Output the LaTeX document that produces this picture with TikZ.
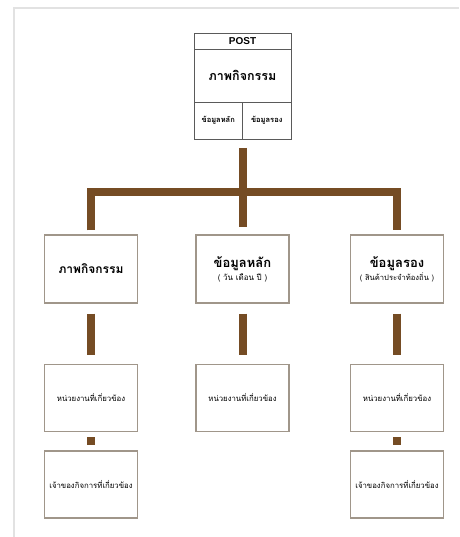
\documentclass[tikz,border=0pt]{standalone}
\usepackage{fontspec}
\setmainfont{Liberation Sans}
\newfontfamily\thaifont[Script=Thai]{Loma}
\usetikzlibrary{positioning}
\definecolor{barbrown}{RGB}{117,76,36}
\definecolor{boxline}{RGB}{160,150,138}
\definecolor{postline}{RGB}{90,90,90}
\definecolor{framegray}{RGB}{226,226,226}

\begin{document}
\begin{tikzpicture}[
        x=1pt, y=-1pt,
        node distance=60pt and 0pt,
        postcell/.style={rectangle, draw=postline, line width=0.9pt, outer sep=0pt, inner sep=1pt, align=center, minimum width=97pt},
        topbox/.style={rectangle, draw=boxline, fill=white, line width=1.4pt, minimum width=93pt, minimum height=68pt, align=center, inner sep=2pt},
        lowbox/.style={topbox, minimum height=67pt, font=\thaifont\fontsize{7.8}{9}\selectfont},
        titletext/.style={font=\thaifont\bfseries\fontsize{12}{14}\selectfont},
        trunk/.style={draw=barbrown, line width=8pt}
    ]
        \useasboundingbox (0,0) rectangle (459,537);
        \draw[framegray, line width=2pt] (459,8) -| (14,537);

        % post card
        \node[postcell, minimum height=16pt, font=\bfseries\fontsize{10}{12}\selectfont] (posthead) at (242.5,41) {POST};
        \node[postcell, below=0pt of posthead, minimum height=53pt, font=\thaifont\bfseries\fontsize{12.5}{14}\selectfont] (postpic) {ภาพกิจกรรม};
        \node[postcell, below=0pt of postpic.south west, anchor=north west, minimum width=48.5pt, minimum height=37pt, font=\thaifont\bfseries\fontsize{7.5}{9}\selectfont] (postmain) {ข้อมูลหลัก};
        \node[postcell, below=0pt of postpic.south east, anchor=north east, minimum width=48.5pt, minimum height=37pt, font=\thaifont\bfseries\fontsize{7.5}{9}\selectfont] (postsub) {ข้อมูลรอง};

        % second row
        \node[topbox, titletext] (act) at (91,269) {ภาพกิจกรรม};
        \node[topbox, titletext, font=\thaifont\bfseries\fontsize{13}{15}\selectfont] (dates) at (242.5,269) {ข้อมูลหลัก\\[-2pt]{\mdseries\fontsize{8}{9}\selectfont ( วัน เดือน ปี )}};
        \node[topbox, titletext, font=\thaifont\bfseries\fontsize{13}{15}\selectfont] (goods) at (397,269) {ข้อมูลรอง\\[-2pt]{\mdseries\fontsize{7.6}{9}\selectfont ( สินค้าประจำท้องถิ่น )}};

        % third and fourth rows
        \node[lowbox, below=of act] (actorg) {หน่วยงานที่เกี่ยวข้อง};
        \node[lowbox, below=of dates] (dateorg) {หน่วยงานที่เกี่ยวข้อง};
        \node[lowbox, below=of goods] (goodsorg) {หน่วยงานที่เกี่ยวข้อง};
        \node[lowbox, below=18pt of actorg] (actowner) {เจ้าของกิจการที่เกี่ยวข้อง};
        \node[lowbox, below=18pt of goodsorg] (goodsowner) {เจ้าของกิจการที่เกี่ยวข้อง};

        \coordinate (hub) at (242.5,192);
        \draw[trunk] ([yshift=-9pt]postmain.south east) -- ([yshift=7pt]dates.north);
        \draw[trunk] ([yshift=4pt]act.north) |- (hub) -| ([yshift=4pt]goods.north);
        \draw[trunk] ([yshift=-10pt]act.south) -- ([yshift=9pt]actorg.north);
        \draw[trunk] ([yshift=-10pt]dates.south) -- ([yshift=9pt]dateorg.north);
        \draw[trunk] ([yshift=-10pt]goods.south) -- ([yshift=9pt]goodsorg.north);
        \draw[trunk] ([yshift=-5pt]actorg.south) -- ([yshift=5pt]actowner.north);
        \draw[trunk] ([yshift=-5pt]goodsorg.south) -- ([yshift=5pt]goodsowner.north);
    \end{tikzpicture}
\end{document}
